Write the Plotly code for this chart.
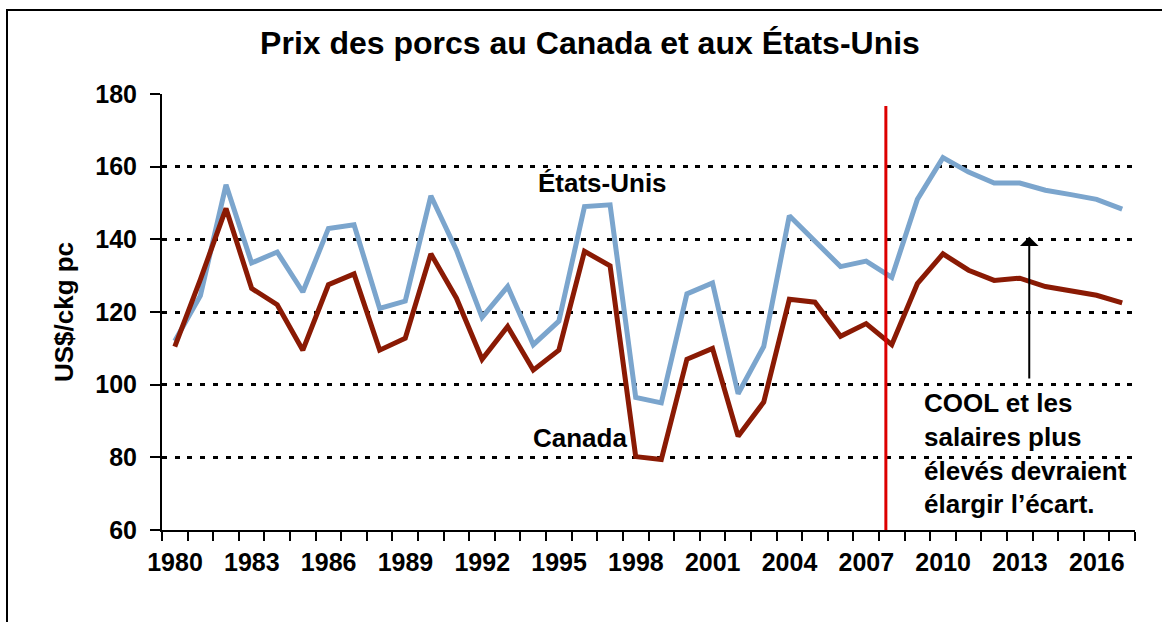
import plotly.graph_objects as go

years = list(range(1980, 2018))
us_prices = [112, 124.5, 155, 133.5, 136.5, 125.5, 143, 144, 121, 123,
             152, 137, 118.5, 127, 111, 117.5, 149, 149.5, 96.5, 95,
             125, 128, 97.5, 110.5, 146.5, 139.5, 132.5, 134, 129.5, 151,
             162.5, 158.5, 155.5, 155.5, 153.5, 152.3, 151, 148.3]
canada_prices = [110.5, 129, 148.5, 126.5, 122, 109.5, 127.5, 130.5, 109.5, 112.8,
                 136, 123.8, 107, 116, 104, 109.5, 136.7, 132.7, 80.2, 79.4,
                 107, 110, 85.8, 95.2, 123.5, 122.7, 113.3, 116.8, 111, 127.8,
                 136, 131.5, 128.7, 129.3, 127, 125.8, 124.6, 122.5]
tick_years = [str(y) if (y - 1980) % 3 == 0 else "" for y in years] + [""]
y_ticks = [60, 80, 100, 120, 140, 160, 180]

FONT = "Liberation Sans, Arial, sans-serif"
W, H = 1162, 622
L, R, T, B = 162, 27, 94, 92
plot_w = W - L - R
px_per_year = plot_w / len(years)

fig = go.Figure()
fig.add_trace(go.Scatter(x=years, y=us_prices, mode="lines", name="États-Unis",
                         line=dict(color="#7BA5CD", width=5)))
fig.add_trace(go.Scatter(x=years, y=canada_prices, mode="lines", name="Canada",
                         line=dict(color="#8A1A04", width=5)))

fig.update_layout(
    width=W, height=H,
    margin=dict(l=L, r=R, t=T, b=B),
    paper_bgcolor="white", plot_bgcolor="white",
    showlegend=False,
    font=dict(family=FONT, color="black"),
    title=dict(text="<b>Prix des porcs au Canada et aux États-Unis</b>",
               x=590 / W, xanchor="center", xref="container",
               y=1 - 53.5 / H, yanchor="bottom", yref="container",
               font=dict(size=32, family=FONT, color="black")),
)

boundaries = [years[0] - 0.5 + k for k in range(len(years) + 1)]
fig.update_xaxes(
    range=[years[0] - 0.5, years[-1] + 0.5],
    tickmode="array", tickvals=boundaries, ticktext=tick_years,
    ticklabelshift=int(round(px_per_year / 2)),
    ticks="outside", ticklen=9, tickwidth=2, tickcolor="black",
    showline=True, linewidth=2, linecolor="black",
    showgrid=False, zeroline=False,
    tickfont=dict(size=25, family=FONT, color="black", weight="bold"),
)
fig.update_yaxes(
    range=[60, 180], tickmode="array", tickvals=y_ticks,
    ticks="outside", ticklen=10, tickwidth=2, tickcolor="black",
    showline=True, linewidth=2, linecolor="black",
    showgrid=True, gridcolor="black", gridwidth=2.5, griddash="5px,7.7px",
    zeroline=False, ticklabelstandoff=8,
    tickfont=dict(size=25, family=FONT, color="black", weight="bold"),
    title=dict(text="<b>US$/ckg pc</b>", font=dict(size=26, family=FONT, color="black"),
               standoff=14),
)

# red vertical line marking 2008
fig.add_shape(type="line", xref="x", yref="y", x0=2007.77, x1=2007.77, y0=60, y1=176.7,
              line=dict(color="#DD0000", width=3), layer="above")

# outer border
fig.add_shape(type="rect", xref="paper", yref="paper",
              x0=(7 - L) / plot_w, x1=(1180 - L) / plot_w,
              y0=(H - B - 650) / (H - T - B), y1=(H - B - 10) / (H - T - B),
              line=dict(color="black", width=2), fillcolor="rgba(0,0,0,0)")

ann_font = dict(size=26, family=FONT, color="black")
fig.add_annotation(x=1996.7, y=155.5, text="<b>États-Unis</b>", showarrow=False,
                   xanchor="center", yanchor="middle", font=ann_font)
fig.add_annotation(x=1995.83, y=85.3, text="<b>Canada</b>", showarrow=False,
                   xanchor="center", yanchor="middle", font=ann_font)
fig.add_annotation(x=2009.18, y=81, text="<b>COOL et les<br>salaires plus<br>élevés devraient<br>élargir l’écart.</b>",
                   showarrow=False, xanchor="left", yanchor="middle", align="left",
                   font=ann_font)
fig.add_annotation(x=2013.37, y=140.7, ax=2013.37, ay=101.3, axref="x", ayref="y",
                   xref="x", yref="y", text="", showarrow=True,
                   arrowhead=1, arrowsize=1.55, arrowwidth=2, arrowcolor="black", standoff=0)

fig.write_html("out.html", config={"displayModeBar": False},
               post_script="document.body.style.margin='0';")
